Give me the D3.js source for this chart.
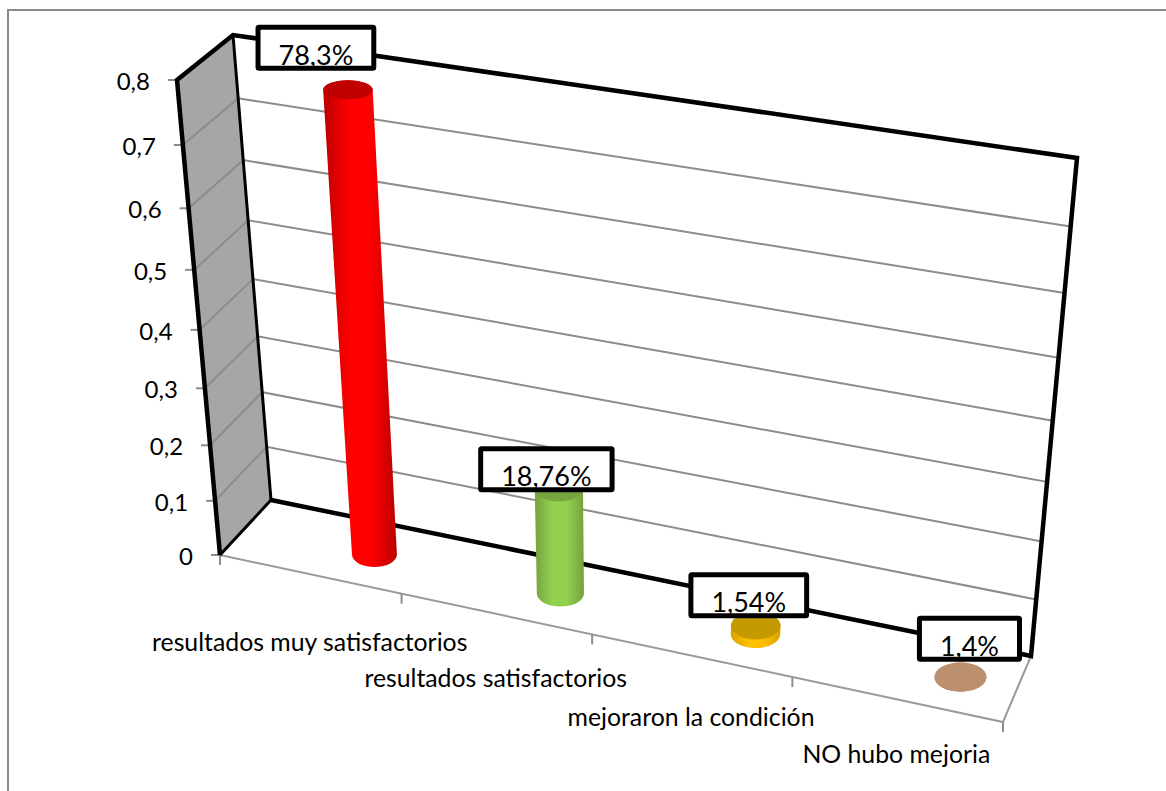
<!DOCTYPE html>
<html>
<head>
<meta charset="utf-8">
<script src="https://cdn.jsdelivr.net/npm/d3@7"></script>
<style>
    html, body { margin: 0; padding: 0; background: #fff; }
    svg { display: block; }
    text { font-family: Lato, "Open Sans", sans-serif; fill: #000; }
</style>
</head>
<body>
<svg id="chart" width="1166" height="791"></svg>
<script>
"use strict";

// data
const categories = ["resultados muy satisfactorios", "resultados satisfactorios", "mejoraron la condición", "NO hubo mejoria"];
const barLabels = ["78,3%", "18,76%", "1,54%", "1,4%"];
const barValues = [0.783, 0.1876, 0.0154, 0];  // height as drawn, the last one is flat in the picture
const yTicks = [0, 0.1, 0.2, 0.3, 0.4, 0.5, 0.6, 0.7, 0.8];

// colours per bar
const sideEdge = ["#b80000", "#74a23c", "#d9a300", "#bc8f6f"];
const sideMid = ["#ff0000", "#92d050", "#ffc000", "#bc8f6f"];
const topColor = ["#c00000", "#76a540", "#c49a00", "#bc8f6f"];

// layout
const labelShift = [[-32, -42], [-12.5, -19.5], [-7, -30.5], [9, -38.5]];
const catLabelDrop = [77, 73, 71, 64];
const frontPlane = [[220, 555], [1003, 722], [1051, 212], [177, 80]];
const backPlane = [[271, 500], [1031, 656], [1077, 158], [233, 35]];
const barDepth = 0.5;

const svg = d3.select("#chart");

// square -> quad projection
function homography(q) {
    const [[x0, y0], [x1, y1], [x2, y2], [x3, y3]] = q;
    const sx = x0 - x1 + x2 - x3, sy = y0 - y1 + y2 - y3;
    const dx1 = x1 - x2, dx2 = x3 - x2, dy1 = y1 - y2, dy2 = y3 - y2;
    const den = dx1 * dy2 - dx2 * dy1;
    const g = (sx * dy2 - dx2 * sy) / den, h = (dx1 * sy - sx * dy1) / den;
    const a = x1 - x0 + g * x1, b = x3 - x0 + h * x3, d = y1 - y0 + g * y1, e = y3 - y0 + h * y3;
    return (u, v) => {
        const w = g * u + h * v + 1;
        return [(a * u + b * v + x0) / w, (d * u + e * v + y0) / w];
    };
}

// point in the chart box: u along the categories, v up, w into the depth
function project(u, v, w) {
    const quad = frontPlane.map((p, i) => [
        p[0] + (backPlane[i][0] - p[0]) * w,
        p[1] + (backPlane[i][1] - p[1]) * w
    ]);
    return homography(quad)(u, v);
}

// scales
const scaleV = d3.scaleLinear().domain([0, 0.8]).range([0, 1]);
const scaleBand = d3.scaleBand().domain(categories).range([0, 1]);
const scaleBar = d3.scalePoint().domain(categories).range([0.181, 0.933]);
const tickFormat = d3.formatLocale({ decimal: ",", thousands: ".", grouping: [3], currency: ["", ""] }).format(".1~f");

const line = d3.line();

// chart border
svg.append("path")
    .attr("d", line([[8, 791], [8, 10], [1166, 10]]))
    .attr("fill", "none")
    .attr("stroke", "#8c8c8c")
    .attr("stroke-width", 2);

// side wall
svg.append("path")
    .attr("d", line([project(0, 0, 0), project(0, 1, 0), project(0, 1, 1), project(0, 0, 1)]) + "Z")
    .attr("fill", "#a6a6a6");

// grid lines
svg.append("g").selectAll("path")
    .data(yTicks.slice(1, -1))
    .enter()
    .append("path")
    .attr("d", d => line([project(0, scaleV(d), 0), project(0, scaleV(d), 1), project(1, scaleV(d), 1)]))
    .attr("fill", "none")
    .attr("stroke", "#8c8c8c")
    .attr("stroke-width", 2);

// floor edges
svg.append("path")
    .attr("d", line([project(0, 0, 0), project(1, 0, 0), project(1, 0, 1)]))
    .attr("fill", "none")
    .attr("stroke", "#9a9a9a")
    .attr("stroke-width", 2);

// y ticks + labels
const yAxis = svg.append("g").attr("class", "y_axis");
yTicks.forEach(t => {
    const p = project(0, scaleV(t), 0);
    yAxis.append("path")
        .attr("d", line([p, [p[0] - 9, p[1]]]))
        .attr("stroke", "#8c8c8c")
        .attr("stroke-width", 2);
    yAxis.append("text")
        .attr("x", p[0] - 27)
        .attr("y", p[1] + 10)
        .attr("text-anchor", "end")
        .attr("font-size", 24)
        .text(tickFormat(t));
});

// x ticks + labels
const xAxis = svg.append("g").attr("class", "x_axis");
d3.range(categories.length + 1).forEach(i => {
    const p = project(i * scaleBand.step(), 0, 0);
    xAxis.append("path")
        .attr("d", line([p, [p[0], p[1] + 10]]))
        .attr("stroke", "#8c8c8c")
        .attr("stroke-width", 2);
});
categories.forEach((c, i) => {
    const p = project(scaleBand(c) + scaleBand.bandwidth() / 2, 0, 0);
    xAxis.append("text")
        .attr("x", p[0])
        .attr("y", p[1] + catLabelDrop[i])
        .attr("text-anchor", "middle")
        .attr("font-size", 24.8)
        .text(c);
});

// frame
const frame = svg.append("g").attr("fill", "none").attr("stroke", "#000").attr("stroke-linejoin", "miter");
[
    [[project(0, 0, 1), project(0, 1, 1)], 3],
    [[project(0, 0, 0), project(0, 0, 1)], 3],
    [[project(0, 0, 0), project(0, 1, 0), project(0, 1, 1), project(1, 1, 1), project(1, 0, 1), project(0, 0, 1)], 4.5]
].forEach(e => {
    frame.append("path").attr("d", line(e[0])).attr("stroke-width", e[1]);
});

// gradients for the cylinders
const defs = svg.append("defs");
categories.forEach((c, i) => {
    const grad = defs.append("linearGradient").attr("id", "bar" + i);
    grad.append("stop").attr("offset", "0%").attr("stop-color", sideEdge[i]);
    grad.append("stop").attr("offset", "35%").attr("stop-color", sideMid[i]);
    grad.append("stop").attr("offset", "65%").attr("stop-color", sideMid[i]);
    grad.append("stop").attr("offset", "100%").attr("stop-color", sideEdge[i]);
});

// drawing bars
const halfBar = 0.031;
const bars = svg.append("g").attr("class", "bars");
categories.forEach((c, i) => {
    const u = scaleBar(c), v = scaleV(barValues[i]);
    const base = project(u, 0, barDepth), top = project(u, v, barDepth);
    const rBase = (project(u + halfBar, 0, barDepth)[0] - project(u - halfBar, 0, barDepth)[0]) / 2;
    const rTop = (project(u + halfBar, v, barDepth)[0] - project(u - halfBar, v, barDepth)[0]) / 2;
    const ryBase = rBase * 0.56, ryTop = rTop * (0.56 - 0.18 * v);
    bars.append("path")
        .attr("d", `M${base[0] - rBase},${base[1]} A${rBase},${ryBase} 0 0 0 ${base[0] + rBase},${base[1]} L${top[0] + rTop},${top[1]} A${rTop},${ryTop} 0 0 0 ${top[0] - rTop},${top[1]} Z`)
        .attr("fill", `url(#bar${i})`);
    bars.append("ellipse")
        .attr("cx", top[0])
        .attr("cy", top[1])
        .attr("rx", rTop)
        .attr("ry", ryTop)
        .attr("fill", topColor[i]);
});

// value labels
const labels = svg.append("g").attr("class", "labels");
categories.forEach((c, i) => {
    const top = project(scaleBar(c), scaleV(barValues[i]), barDepth);
    const cx = top[0] + labelShift[i][0], cy = top[1] + labelShift[i][1];
    const box = labels.append("rect");
    const txt = labels.append("text")
        .attr("x", cx)
        .attr("y", cy + 17)
        .attr("text-anchor", "middle")
        .attr("font-size", 27)
        .text(barLabels[i]);
    const w = txt.node().getComputedTextLength() + 41;
    box.attr("x", cx - w / 2)
        .attr("y", cy - 20.5)
        .attr("width", w)
        .attr("height", 41)
        .attr("fill", "#fff")
        .attr("stroke", "#000")
        .attr("stroke-width", 5)
        .attr("rx", 1);
});
</script>
</body>
</html>
